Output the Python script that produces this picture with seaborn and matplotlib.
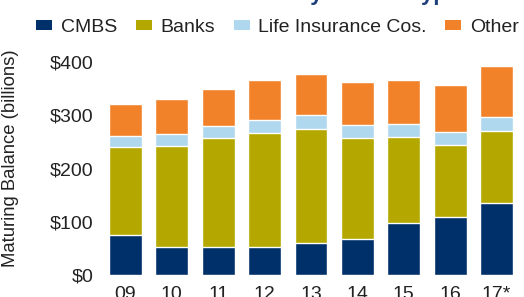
import numpy as np
import pandas as pd
import matplotlib
matplotlib.use("Agg")
import matplotlib.pyplot as plt
import seaborn as sns
from matplotlib.patches import Patch

sns.set_style("white")
plt.rcParams["font.family"] = ["Liberation Sans", "DejaVu Sans"]

# maturing balance by lender type, $ billions
years = ["09", "10", "11", "12", "13", "14", "15", "16", "17*"]
cmbs = [76, 53, 52, 52, 61, 68, 98, 109, 136]
banks = [165, 189, 206, 215, 213, 189, 161, 135, 134]
life_ins = [20, 22, 22, 24, 26, 24, 24, 25, 27]
other = [60, 66, 69, 75, 78, 82, 83, 88, 96]

series = ["CMBS", "Banks", "Life Insurance Cos.", "Other"]
colors = ["#00306a", "#b4a800", "#afd8ef", "#f2822a"]

df = pd.DataFrame({"year": years, "CMBS": cmbs, "Banks": banks,
                   "Life Insurance Cos.": life_ins, "Other": other})
cum = df[series].cumsum(axis=1)
cum["year"] = df["year"]

fig = plt.figure(figsize=(5.24, 2.97), dpi=100)
ax = fig.add_axes([0.195, 0.074, 0.797, 0.717])

# draw cumulative totals from the top segment down so the bars stack
for name, col in reversed(list(zip(series, colors))):
    sns.barplot(data=cum, x="year", y=name, color=col, width=0.71,
                edgecolor="white", linewidth=1.0, ax=ax, saturation=1)

ax.set_ylim(0, 400)
ax.set_yticks([0, 100, 200, 300, 400])
ax.set_yticklabels([f"${v}" for v in [0, 100, 200, 300, 400]])
ax.set_xlabel("")
ax.set_ylabel("Maturing Balance (billions)", fontsize=13.3, color="#222222")
ax.yaxis.set_label_coords(-0.199, 0.547)
ax.tick_params(axis="both", length=0, labelsize=14, colors="#222222")
ax.tick_params(axis="x", pad=8)
ax.tick_params(axis="y", pad=6)
sns.despine(ax=ax, left=True, bottom=True)

handles = [Patch(facecolor=c, edgecolor="none") for c in colors]
fig.legend(handles, series, loc="center left", bbox_to_anchor=(0.036, 0.908), ncol=4,
           frameon=False, fontsize=14, handlelength=0.82, handleheight=0.36,
           handletextpad=0.45, columnspacing=0.95, labelcolor="#222222")

fig.text(0.615, 0.999, "Maturities by Lender Type", ha="center", va="baseline",
         fontsize=16, fontweight="bold", color="#1f3f7a")

fig.savefig("out.png", dpi=100)
